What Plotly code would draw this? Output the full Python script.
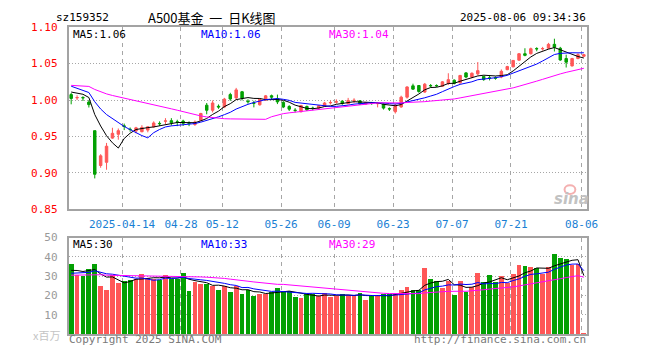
import plotly.graph_objects as go

# ---------------- data ----------------
dates = [
    "2025-03-31", "2025-04-01", "2025-04-02", "2025-04-03", "2025-04-07", "2025-04-08", "2025-04-09", "2025-04-10",
    "2025-04-11", "2025-04-14", "2025-04-15", "2025-04-16", "2025-04-17", "2025-04-18", "2025-04-21", "2025-04-22",
    "2025-04-23", "2025-04-24", "2025-04-25", "2025-04-28", "2025-04-29", "2025-04-30", "2025-05-06", "2025-05-07",
    "2025-05-08", "2025-05-09", "2025-05-12", "2025-05-13", "2025-05-14", "2025-05-15", "2025-05-16", "2025-05-19",
    "2025-05-20", "2025-05-21", "2025-05-22", "2025-05-23", "2025-05-26", "2025-05-27", "2025-05-28", "2025-05-29",
    "2025-05-30", "2025-06-03", "2025-06-04", "2025-06-05", "2025-06-06", "2025-06-09", "2025-06-10", "2025-06-11",
    "2025-06-12", "2025-06-13", "2025-06-16", "2025-06-17", "2025-06-18", "2025-06-19", "2025-06-20", "2025-06-23",
    "2025-06-24", "2025-06-25", "2025-06-26", "2025-06-27", "2025-06-30", "2025-07-01", "2025-07-02", "2025-07-03",
    "2025-07-04", "2025-07-07", "2025-07-08", "2025-07-09", "2025-07-10", "2025-07-11", "2025-07-14", "2025-07-15",
    "2025-07-16", "2025-07-17", "2025-07-18", "2025-07-21", "2025-07-22", "2025-07-23", "2025-07-24", "2025-07-25",
    "2025-07-28", "2025-07-29", "2025-07-30", "2025-07-31", "2025-08-01", "2025-08-04", "2025-08-05", "2025-08-06",
]

open_ = [
    1.0075, 1.0030, 1.0035, 0.9973, 0.9580, 0.9102, 0.9146, 0.9478, 0.9531, 0.9645,
    0.9600, 0.9575, 0.9566, 0.9588, 0.9633, 0.9680, 0.9710, 0.9717, 0.9701, 0.9712,
    0.9683, 0.9664, 0.9722, 0.9930, 0.9860, 0.9915, 0.9905, 1.0075, 1.0030, 1.0114,
    0.9985, 0.9960, 0.9935, 1.0000, 1.0060, 1.0018, 0.9968, 0.9912, 0.9862, 0.9840,
    0.9912, 0.9890, 0.9890, 0.9920, 0.9962, 0.9972, 0.9985, 0.9950, 0.9993, 0.9990,
    0.9945, 0.9960, 0.9950, 0.9945, 0.9882, 0.9840, 0.9905, 1.0040, 1.0195, 1.0200,
    1.0110, 1.0200, 1.0200, 1.0190, 1.0228, 1.0272, 1.0237, 1.0373, 1.0316, 1.0360,
    1.0325, 1.0305, 1.0305, 1.0316, 1.0417, 1.0456, 1.0548, 1.0636, 1.0636, 1.0707,
    1.0703, 1.0711, 1.0765, 1.0711, 1.0570, 1.0469, 1.0570, 1.0601,
]
high = [
    1.0097, 1.0066, 1.0053, 1.0000, 0.9580, 0.9257, 0.9412, 0.9620, 0.9610, 0.9677,
    0.9624, 0.9633, 0.9655, 0.9640, 0.9708, 0.9708, 0.9752, 0.9752, 0.9730, 0.9730,
    0.9708, 0.9720, 0.9825, 0.9960, 0.9995, 0.9940, 1.0030, 1.0100, 1.0167, 1.0125,
    1.0010, 0.9990, 1.0020, 1.0070, 1.0075, 1.0075, 0.9985, 0.9930, 0.9890, 0.9935,
    0.9925, 0.9910, 0.9930, 0.9975, 0.9995, 1.0010, 0.9995, 1.0030, 1.0025, 1.0000,
    0.9975, 0.9975, 0.9965, 0.9955, 0.9900, 0.9950, 1.0060, 1.0190, 1.0225, 1.0205,
    1.0235, 1.0220, 1.0215, 1.0260, 1.0368, 1.0285, 1.0345, 1.0385, 1.0380, 1.0522,
    1.0335, 1.0330, 1.0325, 1.0420, 1.0470, 1.0550, 1.0645, 1.0711, 1.0720, 1.0725,
    1.0730, 1.0785, 1.0842, 1.0730, 1.0623, 1.0580, 1.0640, 1.0630,
]
low = [
    0.9942, 1.0000, 0.9987, 0.9898, 0.8925, 0.9071, 0.9044, 0.9469, 0.9456, 0.9588,
    0.9566, 0.9544, 0.9558, 0.9558, 0.9620, 0.9646, 0.9668, 0.9650, 0.9642, 0.9646,
    0.9642, 0.9646, 0.9715, 0.9805, 0.9830, 0.9880, 0.9890, 0.9990, 1.0000, 0.9995,
    0.9950, 0.9900, 0.9925, 0.9990, 1.0010, 0.9945, 0.9890, 0.9850, 0.9830, 0.9830,
    0.9850, 0.9860, 0.9880, 0.9910, 0.9940, 0.9950, 0.9935, 0.9945, 0.9960, 0.9935,
    0.9935, 0.9935, 0.9900, 0.9870, 0.9850, 0.9815, 0.9895, 1.0020, 1.0140, 1.0100,
    1.0100, 1.0175, 1.0180, 1.0180, 1.0206, 1.0215, 1.0225, 1.0300, 1.0300, 1.0338,
    1.0265, 1.0270, 1.0280, 1.0300, 1.0410, 1.0450, 1.0540, 1.0601, 1.0625, 1.0670,
    1.0680, 1.0700, 1.0667, 1.0540, 1.0447, 1.0460, 1.0560, 1.0590,
]
close = [
    1.0022, 1.0035, 1.0031, 0.9938, 0.8982, 0.9235, 0.9367, 0.9544, 0.9580, 0.9640,
    0.9596, 0.9619, 0.9624, 0.9633, 0.9686, 0.9676, 0.9714, 0.9690, 0.9697, 0.9681,
    0.9680, 0.9699, 0.9816, 0.9860, 0.9960, 0.9905, 1.0013, 1.0015, 1.0140, 1.0026,
    0.9978, 0.9956, 1.0010, 1.0058, 1.0040, 0.9975, 0.9905, 0.9875, 0.9858, 0.9925,
    0.9865, 0.9885, 0.9922, 0.9960, 0.9966, 0.9976, 0.9955, 0.9995, 0.9997, 0.9945,
    0.9965, 0.9955, 0.9955, 0.9890, 0.9878, 0.9930, 1.0040, 1.0180, 1.0150, 1.0118,
    1.0218, 1.0196, 1.0196, 1.0250, 1.0280, 1.0230, 1.0338, 1.0316, 1.0368, 1.0404,
    1.0281, 1.0301, 1.0301, 1.0395, 1.0460, 1.0544, 1.0636, 1.0614, 1.0705, 1.0703,
    1.0707, 1.0765, 1.0725, 1.0550, 1.0520, 1.0570, 1.0623, 1.0623,
]
volume = [  # x 百万
    36.2, 30.8, 30.3, 33.7, 36.2, 24.7, 22.7, 30.8, 26.7, 27.7,
    28.2, 28.7, 31.2, 29.2, 28.7, 28.0, 30.8, 28.7, 28.7, 31.7,
    22.2, 27.2, 26.0, 26.0, 24.8, 22.7, 24.8, 21.7, 24.8, 20.7,
    23.0, 19.7, 20.8, 20.8, 22.0, 24.0, 22.0, 22.5, 19.0, 18.5,
    21.0, 20.5, 19.5, 21.5, 19.2, 19.8, 20.7, 20.0, 20.0, 21.3,
    17.7, 20.0, 19.5, 21.0, 21.0, 21.0, 22.7, 24.2, 22.7, 22.7,
    34.0, 28.7, 27.7, 23.7, 27.5, 20.2, 27.7, 21.8, 24.3, 31.5,
    26.8, 30.7, 26.8, 30.2, 26.3, 31.2, 36.0, 35.2, 34.7, 34.2,
    31.3, 35.0, 41.7, 39.5, 39.0, 36.0, 36.5, 0.5,
]
# closes / volumes of the 29 sessions before the window (only feed the moving averages)
pre_close = [
    1.012, 1.015, 1.018, 1.022, 1.020, 1.024, 1.019, 1.016, 1.010, 1.013,
    1.017, 1.020, 1.023, 1.021, 1.025, 1.027, 1.024, 1.026, 1.030, 1.034,
    1.031, 1.029, 1.027, 1.025, 1.023, 1.013, 1.009, 1.016, 1.015,
]
pre_volume = [
    28, 31, 33, 29, 27, 30, 32, 35, 31, 28,
    26, 29, 30, 33, 31, 28, 30, 29, 32, 28,
    29, 31, 30, 28, 32, 31, 33, 32, 32.8,
]
tick_dates = ["2025-04-14", "2025-04-28", "2025-05-12", "2025-05-26", "2025-06-09",
              "2025-06-23", "2025-07-07", "2025-07-21", "2025-08-06"]
tick_labels = ["2025-04-14", "04-28", "05-12", "05-26", "06-09", "06-23", "07-07", "07-21", "08-06"]
vol_grid_dates = ["2025-04-14", "2025-04-28", "2025-05-26", "2025-06-09",
                  "2025-06-23", "2025-07-07", "2025-07-21", "2025-08-06"]
price_ticks = [0.85, 0.90, 0.95, 1.00, 1.05, 1.10]
vol_ticks = [10, 20, 30, 40, 50]

# ---------------- helpers ----------------
W, H = 660, 360
RED, GREEN = "#ff5757", "#03a003"
BORDER = "#a3a3a3"
GRID = "#a6a6a6"
MONO = "DejaVu Sans Mono"
NB = "\u00a0"


def px(x):
    return x / W


def py(y):
    return 1 - y / H


def moving_avg(series, pre, n):
    allv = list(pre) + list(series)
    off = len(pre)
    return [sum(allv[off + i - n + 1: off + i + 1]) / n for i in range(len(series))]


idx = list(range(len(dates)))
GRID_SHIFT = -0.37  # date grid lines sit at the left edge of a session slot
tick_pos = [dates.index(d) + GRID_SHIFT for d in tick_dates]
vol_grid_pos = [dates.index(d) + GRID_SHIFT for d in vol_grid_dates]

ma5 = moving_avg(close, pre_close, 5)
ma10 = moving_avg(close, pre_close, 10)
ma30 = moving_avg(close, pre_close, 30)
vma5 = moving_avg(volume, pre_volume, 5)
vma10 = moving_avg(volume, pre_volume, 10)
vma30 = moving_avg(volume, pre_volume, 30)

vol_colors = [RED if c > o else GREEN for o, c in zip(open_, close)]

# ---------------- figure ----------------
fig = go.Figure()
fig.add_trace(go.Candlestick(
    x=idx, open=open_, high=high, low=low, close=close,
    increasing=dict(line=dict(color=RED, width=1), fillcolor=RED),
    decreasing=dict(line=dict(color=GREEN, width=1), fillcolor=GREEN),
    whiskerwidth=0, xaxis="x", yaxis="y", hoverinfo="skip", showlegend=False,
))
for vals, col in [(ma5, "#000000"), (ma10, "#0000ff"), (ma30, "#ff00ff")]:
    fig.add_trace(go.Scatter(x=idx, y=vals, mode="lines", line=dict(color=col, width=1),
                             xaxis="x", yaxis="y", hoverinfo="skip", showlegend=False))

fig.add_trace(go.Bar(x=idx, y=volume, width=0.82, marker=dict(color=vol_colors, line=dict(width=0)),
                     xaxis="x2", yaxis="y2", hoverinfo="skip", showlegend=False))
for vals, col in [(vma5, "#000000"), (vma10, "#0000ff"), (vma30, "#ff00ff")]:
    fig.add_trace(go.Scatter(x=idx, y=vals, mode="lines", line=dict(color=col, width=1),
                             xaxis="x2", yaxis="y2", hoverinfo="skip", showlegend=False))

x_dom = [px(70), px(597.5)]
x_rng = [-0.417, 87.47]

common_x = dict(domain=x_dom, range=x_rng, showgrid=True, gridcolor=GRID, gridwidth=1,
                griddash="4px,4px", showline=True, mirror=True, linecolor=BORDER, linewidth=2,
                ticks="", zeroline=False, fixedrange=True)
common_y = dict(showgrid=True, gridcolor=GRID, gridwidth=1, griddash="1px,2px",
                showline=True, mirror=True, linecolor=BORDER, linewidth=2,
                ticks="", zeroline=False, fixedrange=True, ticklabelstandoff=7)

fig.update_layout(
    width=W, height=H, margin=dict(l=0, r=0, t=0, b=0),
    paper_bgcolor="white", plot_bgcolor="white", showlegend=False,
    hovermode=False, boxgap=0.4, bargap=0,
    xaxis=dict(common_x, anchor="y", tickmode="array", tickvals=tick_pos, ticktext=tick_labels,
               tickfont=dict(family=MONO, size=11, color="#1a7fd4"), ticklabelstandoff=3,
               rangeslider=dict(visible=False)),
    yaxis=dict(common_y, domain=[py(211), py(22)], anchor="x", range=[0.85, 1.10],
               tickmode="array", tickvals=price_ticks, ticktext=[f"{v:.2f}" for v in price_ticks],
               tickfont=dict(family=MONO, size=11, color="#ff0000")),
    xaxis2=dict(common_x, anchor="y2", tickmode="array", tickvals=vol_grid_pos,
                showticklabels=False, matches="x"),
    yaxis2=dict(common_y, domain=[py(340.3), py(240.3)], anchor="x2", range=[0, 50],
                tickmode="array", tickvals=vol_ticks, ticktext=[str(v) for v in vol_ticks],
                tickfont=dict(family=MONO, size=11, color="#999999")),
)

ann = []


def add_text(text, x, y, color="#000000", size=11, family=MONO, anchor="left"):
    ann.append(dict(text=text, x=px(x), y=py(y), xref="paper", yref="paper",
                    xanchor=anchor, yanchor="middle", showarrow=False,
                    font=dict(family=family, size=size, color=color)))


# header
add_text("sz159352", 55, 12)
add_text(f"A500基金 {NB}一 {NB}日K线图", 149, 12, family="Noto Sans CJK SC", size=13)
add_text("2025-08-06 09:34:36", 599, 12, anchor="right")
# price MA labels
add_text(f"MA5:{ma5[-1]:.2f}", 72, 30)
add_text(f"MA10:{ma10[-1]:.2f}", 203, 30, color="#0000ff")
add_text(f"MA30:{ma30[-1]:.2f}", 333, 30, color="#ff00ff")
# volume MA labels
add_text(f"MA5:{round(vma5[-1])}", 72, 247)
add_text(f"MA10:{round(vma10[-1])}", 203, 247, color="#0000ff")
add_text(f"MA30:{round(vma30[-1])}", 333, 247, color="#ff00ff")
# footer
add_text("x百万", 63, 341, color="#c4c4c4", size=11, family="Noto Sans CJK SC", anchor="right")
add_text("Copyright 2025 SINA.COM", 68, 346, color="#7a7a7a")
add_text("http://finance.sina.com.cn", 599, 346, color="#7a7a7a", anchor="right")
# sina watermark
ann.append(dict(text="<b><i>sina</i></b>", x=px(582), y=py(200), xref="paper", yref="paper",
                xanchor="center", yanchor="middle", showarrow=False,
                font=dict(family="DejaVu Sans", size=15, color="#c2c2c2")))
fig.update_layout(annotations=ann)
fig.add_shape(type="circle", xref="paper", yref="paper",
              x0=px(575), x1=px(586), y0=py(195), y1=py(186),
              line=dict(color="#f4b0b0", width=2), fillcolor="rgba(0,0,0,0)")

fig.write_html(
    "out.html",
    config={"displayModeBar": False, "staticPlot": True},
    post_script="document.body.style.margin='0px';document.body.style.padding='0px';"
                "document.body.style.overflow='hidden';",
)
